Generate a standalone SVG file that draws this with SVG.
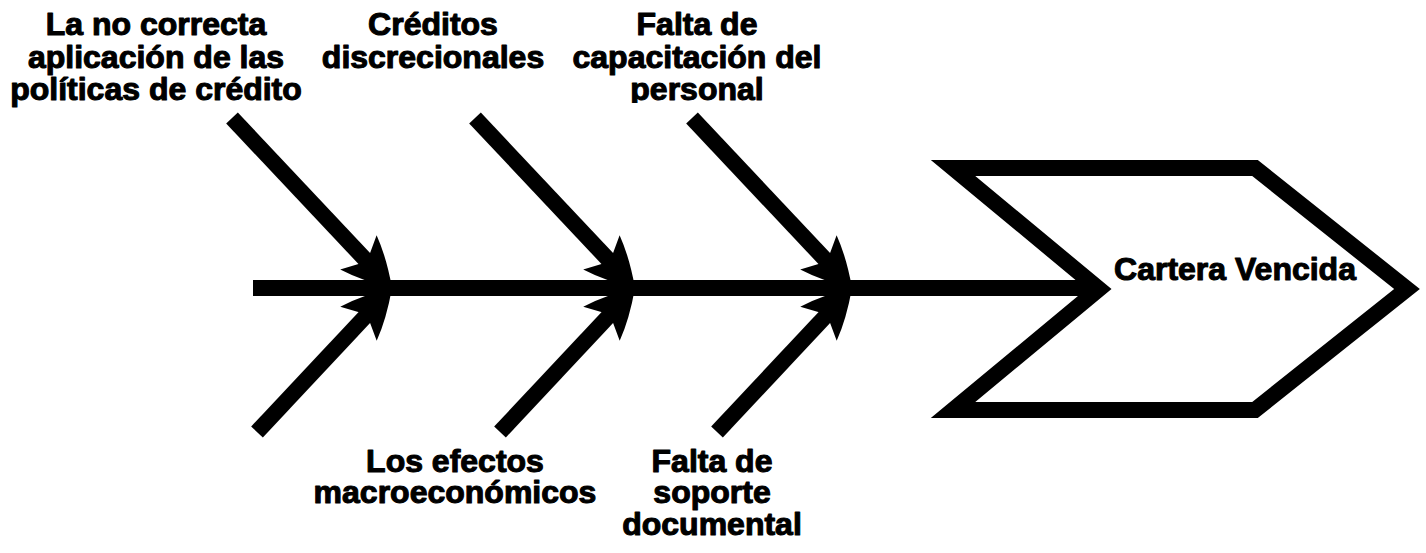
<svg xmlns="http://www.w3.org/2000/svg" width="1426" height="553" viewBox="0 0 1426 553">
<style>
.t{font-family:"Liberation Sans",Arial,sans-serif;font-weight:bold;font-size:32px;fill:#000;stroke:#000;stroke-width:1.1;stroke-linejoin:round;text-anchor:middle}
.bone{stroke:#000;stroke-width:16;fill:none;stroke-linecap:butt}
</style>
<defs>
<marker id="ah" markerUnits="userSpaceOnUse" orient="auto" refX="0" refY="0" markerWidth="60" markerHeight="60" style="overflow:visible">
<path d="M20,0 Q-6,-17 -29,-25 L-17,-1 L-17,1 L-29,25 Q-6,17 20,0 Z" fill="#000"/>
</marker>
<clipPath id="cut"><rect x="540" y="70" width="320" height="33"/></clipPath>
</defs>
<rect width="1426" height="553" fill="#fff"/>
<g id="connectors">
<line class="bone" x1="253" y1="288" x2="1100" y2="288"/>
<line class="bone" x1="232" y1="118" x2="378.3" y2="273.4" marker-end="url(#ah)"/>
<line class="bone" x1="257" y1="432" x2="378.3" y2="302.6" marker-end="url(#ah)"/>
<line class="bone" x1="475" y1="118" x2="621.3" y2="273.4" marker-end="url(#ah)"/>
<line class="bone" x1="500" y1="432" x2="621.3" y2="302.6" marker-end="url(#ah)"/>
<line class="bone" x1="692" y1="118" x2="838.3" y2="273.4" marker-end="url(#ah)"/>
<line class="bone" x1="717" y1="432" x2="838.3" y2="302.6" marker-end="url(#ah)"/>
</g>
<g id="effect">
<path d="M953,168 L1255,168 L1407,289 L1255,410 L953,410 L1099,289 Z" fill="#fff" stroke="#000" stroke-width="16" stroke-linejoin="miter"/>
<text class="t" x="1235" y="280">Cartera Vencida</text>
</g>
<g id="cause1">
<text class="t" x="156" y="35">La no correcta</text>
<text class="t" x="156" y="68">aplicación de las</text>
<text class="t" x="156" y="100">políticas de crédito</text>
</g>
<g id="cause2">
<text class="t" x="433" y="35">Créditos</text>
<text class="t" x="433" y="68">discrecionales</text>
</g>
<g id="cause3">
<text class="t" x="697" y="35">Falta de</text>
<text class="t" x="697" y="68">capacitación del</text>
<text class="t" x="697" y="100" clip-path="url(#cut)">personal</text>
</g>
<g id="cause4">
<text class="t" x="455" y="472">Los efectos</text>
<text class="t" x="455" y="503">macroeconómicos</text>
</g>
<g id="cause5">
<text class="t" x="712" y="472">Falta de</text>
<text class="t" x="712" y="503">soporte</text>
<text class="t" x="712" y="535">documental</text>
</g>
</svg>
